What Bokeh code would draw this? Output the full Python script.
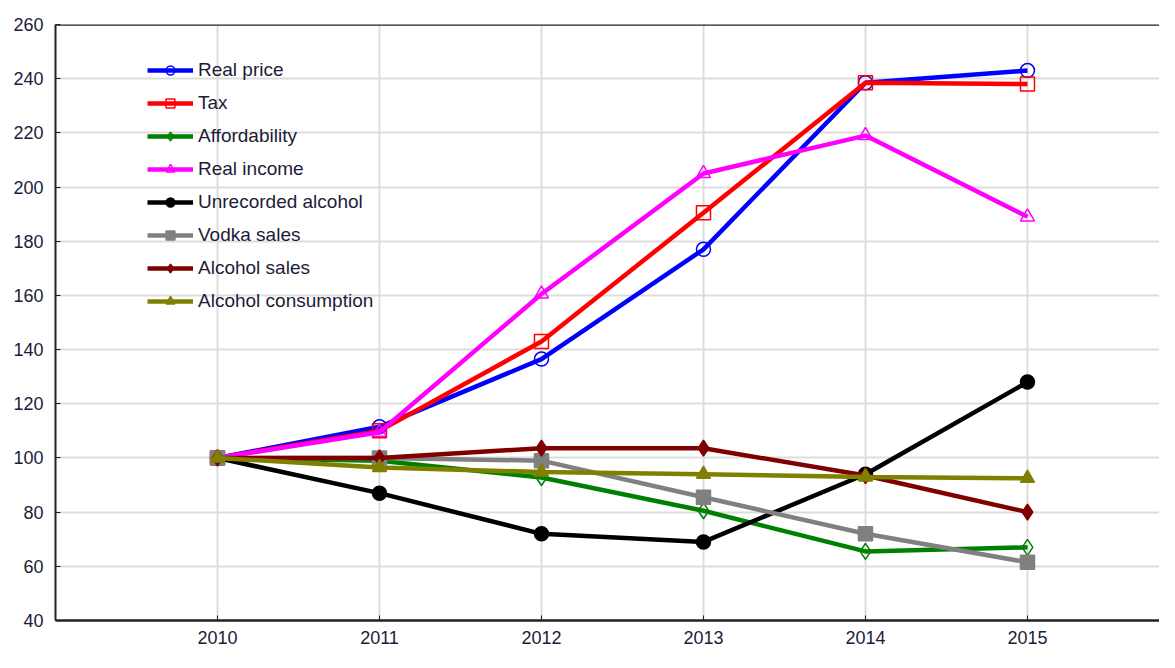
from bokeh.plotting import figure
from bokeh.models import FixedTicker, Legend, LegendItem, Span, Range1d
from bokeh.embed import file_html
from bokeh.resources import INLINE

years = [2010, 2011, 2012, 2013, 2014, 2015]
real_price = [100, 111.5, 136.5, 177, 238.5, 243]
tax = [100, 110, 143, 190.5, 238.5, 238]
affordability = [100, 99, 92.8, 80.5, 65.5, 67]
real_income = [100, 109.5, 160.5, 205, 219, 189]
unrecorded = [100, 87, 72, 69, 94, 128]
vodka_sales = [100, 100, 99, 85.5, 72, 61.5]
alcohol_sales = [100, 100, 103.6, 103.6, 93.5, 80]
alcohol_consumption = [100, 96.5, 94.8, 94, 93, 92.5]
y_ticks = [40, 60, 80, 100, 120, 140, 160, 180, 200, 220, 240, 260]

FONT = "Liberation Sans"
TXT = "#1c1c38"

p = figure(width=1159, height=652, output_backend="svg", toolbar_location=None,
           x_range=Range1d(2009.0, 2015.815), y_range=Range1d(40, 260),
           min_border_left=55, min_border_right=0, min_border_top=24, min_border_bottom=32)
p.outline_line_color = None
p.background_fill_color = "white"
p.border_fill_color = "white"

p.xaxis.ticker = FixedTicker(ticks=years)
p.yaxis.ticker = FixedTicker(ticks=y_ticks)
for ax in (p.xaxis[0], p.yaxis[0]):
    ax.axis_line_color = "#222222"
    ax.major_tick_line_color = "#222222"
    ax.major_tick_in = 5
    ax.major_tick_out = 0
    ax.minor_tick_line_color = None
    ax.major_label_text_font = FONT
    ax.major_label_text_font_size = "18px"
    ax.major_label_text_color = TXT
p.xaxis.axis_line_width = 2.5
p.yaxis.axis_line_width = 2
p.xaxis.major_label_standoff = 10
p.yaxis.major_label_standoff = 12

p.xgrid.ticker = FixedTicker(ticks=years)
p.ygrid.ticker = FixedTicker(ticks=y_ticks)
p.grid.grid_line_color = "#dddddd"
p.grid.grid_line_width = 2

p.add_layout(Span(location=260, dimension="width", line_color="#222222", line_width=2.5))

series = [
    ("Real price", real_price, "#0000ff", "circle", False),
    ("Tax", tax, "#ff0000", "square", False),
    ("Affordability", affordability, "#008000", "diamond", False),
    ("Real income", real_income, "#ff00ff", "triangle", False),
    ("Unrecorded alcohol", unrecorded, "#000000", "circle", True),
    ("Vodka sales", vodka_sales, "#808080", "square", True),
    ("Alcohol sales", alcohol_sales, "#800000", "diamond", True),
    ("Alcohol consumption", alcohol_consumption, "#808000", "triangle", True),
]

items = []
for name, vals, col, mk, filled in series:
    ln = p.line(years, vals, line_color=col, line_width=4.5)
    sz = 14 if mk != "diamond" else 16
    sc = p.scatter(years, vals, marker=mk, size=sz, line_color=col, line_width=1.5,
                   fill_color=col if filled else None)
    items.append(LegendItem(label=name, renderers=[ln, sc]))

legend = Legend(items=items, location=(92, 308), orientation="vertical",
                label_text_font=FONT, label_text_font_size="19px", label_text_color=TXT,
                glyph_width=46, glyph_height=22, label_standoff=5, spacing=11,
                padding=0, margin=0, border_line_color=None, background_fill_alpha=0)
p.add_layout(legend, "center")

open("out.html", "w").write(file_html(p, INLINE))
